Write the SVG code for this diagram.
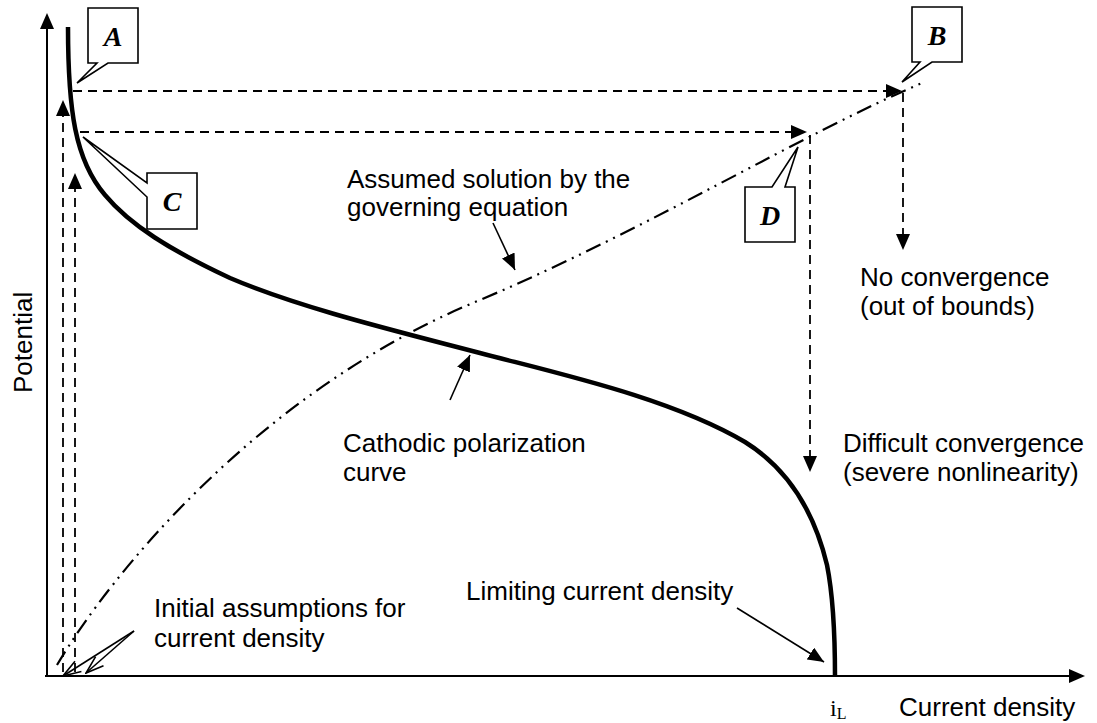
<svg xmlns="http://www.w3.org/2000/svg" width="1097" height="723" viewBox="0 0 1097 723">
<style>
.t{font-family:"Liberation Sans",Arial,sans-serif;font-size:26px;fill:#000}
.lbl{font-family:"Liberation Serif","Times New Roman",serif;font-size:28px;font-weight:bold;font-style:italic;text-anchor:middle;fill:#000}
.ax{stroke:#000;stroke-width:2;fill:none}
.dash{stroke:#000;stroke-width:1.8;fill:none;stroke-dasharray:9 6}
.dd{stroke:#000;stroke-width:2.2;fill:none;stroke-dasharray:16 6 2 6 2 6}
.curve{stroke:#000;stroke-width:4.5;fill:none;stroke-linecap:butt}
.call{fill:#fff;stroke:#000;stroke-width:1.6}
.ar{stroke:#000;stroke-width:1.6;fill:none}
.head{fill:#000;stroke:none}
</style>
<defs>
<marker id="fh" markerUnits="userSpaceOnUse" markerWidth="16" markerHeight="14" refX="16" refY="7" orient="auto"><path d="M0,0 L16,7 L0,14 Z" fill="#000"/></marker>
<marker id="oh" markerUnits="userSpaceOnUse" markerWidth="20" markerHeight="14" refX="19" refY="7" orient="auto"><path d="M1,1 L19,7 L1,13" fill="none" stroke="#000" stroke-width="1.6"/></marker>
</defs>
<g id="axes">
<line class="ax" x1="47" y1="677" x2="47" y2="28"/>
<polygon class="head" points="47,13 40,29 54,29"/>
<line class="ax" x1="45" y1="676" x2="1070" y2="676"/>
<polygon class="head" points="1085,676 1069,669 1069,683"/>
</g>
<g id="connectors">
<path class="dd" d="M57,665 C110,575 260,390 480,300 C650,228 800,135 922,83"/>
<path class="curve" d="M68,27 C68,110 75,160 105,195 C130,225 170,250 230,278 C300,308 400,332 480,353 C560,374 670,398 745,442 C790,470 815,515 827,565 C833,595 835,630 835,677"/>
<line class="dash" x1="63" y1="672" x2="63" y2="115"/>
<polygon class="head" points="63,100 56,116 70,116"/>
<line class="dash" x1="75" y1="672" x2="75" y2="187"/>
<polygon class="head" points="75,173 68,189 82,189"/>
<line class="dash" x1="73" y1="91" x2="887" y2="91"/>
<polygon class="head" points="902,91 886,84 886,98"/>
<line class="dash" x1="80" y1="132" x2="792" y2="132"/>
<polygon class="head" points="807,132 791,125 791,139"/>
<line class="dash" x1="903" y1="93" x2="903" y2="235"/>
<polygon class="head" points="903,250 896,234 910,234"/>
<line class="dash" x1="810" y1="135" x2="810" y2="457"/>
<polygon class="head" points="810,472 803,456 817,456"/>
<line class="ar" x1="493" y1="223" x2="515" y2="270" marker-end="url(#fh)"/>
<line class="ar" x1="450" y1="400" x2="470" y2="355" marker-end="url(#fh)"/>
<line class="ar" x1="737" y1="608" x2="824" y2="662" marker-end="url(#fh)"/>
<line class="ar" x1="134" y1="631" x2="63" y2="676" marker-end="url(#oh)"/>
<line class="ar" x1="134" y1="631" x2="86" y2="673" marker-end="url(#oh)"/>
</g>
<g id="callout-A"><path class="call" d="M88,8 H138 V63 H108 L77,83 L97,63 H88 Z"/><text class="lbl" x="113" y="46">A</text></g>
<g id="callout-B"><path class="call" d="M912,7 H962 V62 H932 L902,82 L920,62 H912 Z"/><text class="lbl" x="937" y="45">B</text></g>
<g id="callout-C"><path class="call" d="M147,173 H197 V229 H147 V197 L83,137 L147,183 Z"/><text class="lbl" x="172" y="211">C</text></g>
<g id="callout-D"><path class="call" d="M745,187 H772 L798,147 L785,187 H795 V242 H745 Z"/><text class="lbl" x="770" y="225">D</text></g>
<g id="labels">
<text class="t" transform="translate(32,393) rotate(-90)">Potential</text>
<text class="t" x="899" y="716">Current density</text>
<text x="830" y="716" font-family="Liberation Serif,serif" font-size="24">i<tspan font-size="16" dy="3">L</tspan></text>
<text class="t" x="347" y="188">Assumed solution by the</text>
<text class="t" x="347" y="216">governing equation</text>
<text class="t" x="860" y="286">No convergence</text>
<text class="t" x="860" y="315">(out of bounds)</text>
<text class="t" x="843" y="452">Difficult convergence</text>
<text class="t" x="843" y="481">(severe nonlinearity)</text>
<text class="t" x="343" y="452">Cathodic polarization</text>
<text class="t" x="343" y="481">curve</text>
<text class="t" x="466" y="600">Limiting current density</text>
<text class="t" x="154" y="617">Initial assumptions for</text>
<text class="t" x="154" y="647">current density</text>
</g>
</svg>
